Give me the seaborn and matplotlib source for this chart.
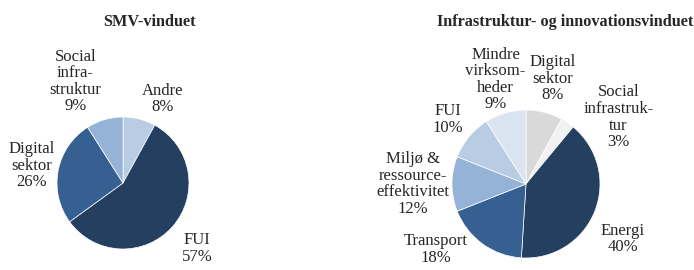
import numpy as np
import matplotlib
matplotlib.use("Agg")
import matplotlib.pyplot as plt
import seaborn as sns

# SMV-vinduet
smv_labels = ['Andre', 'FUI', 'Digital\nsektor', 'Social\ninfra-\nstruktur']
smv_values = [8, 57, 26, 9]
smv_colors = ['#B8CCE4', '#243F60', '#366092', '#95B3D7']

# Infrastruktur- og innovationsvinduet
inf_labels = ['Digital\nsektor', 'Social\ninfrastruk-\ntur', 'Energi', 'Transport',
              'Miljø &\nressource-\neffektivitet', 'FUI', 'Mindre\nvirksom-\nheder']
inf_values = [8, 3, 40, 18, 12, 10, 9]
inf_colors = ['#D9D9D9', '#F2F2F2', '#243F60', '#366092', '#95B3D7', '#B8CCE4', '#DBE5F1']

sns.set_style('white')
plt.rcParams['font.family'] = ['Liberation Serif', 'DejaVu Serif']

W, H = 694, 270
fig = plt.figure(figsize=(W / 100, H / 100), dpi=100)


def draw_pie(cx, cy, r, values, labels, colors, dists, shifts):
    ax = fig.add_axes([(cx - r) / W, (H - cy - r) / H, 2 * r / W, 2 * r / H])
    wedges, _ = ax.pie(values, colors=colors, startangle=90, counterclock=False,
                       wedgeprops=dict(edgecolor='white', linewidth=0.5))
    for w, lab, v, d, s in zip(wedges, labels, values, dists, shifts):
        ang = np.deg2rad((w.theta1 + w.theta2) / 2 + s)
        ax.text(d * np.cos(ang), d * np.sin(ang), f'{lab}\n{v}%', ha='center', va='center',
                fontsize=12, linespacing=1.05, clip_on=False)
    ax.set_xlim(-1, 1)
    ax.set_ylim(-1, 1)
    ax.axis('off')
    return ax


draw_pie(123, 183, 66, smv_values, smv_labels, smv_colors,
         [1.41, 1.5, 1.41, 1.7], [-11, 0, 0, 9])
draw_pie(526, 184, 74, inf_values, inf_labels, inf_colors,
         [1.47, 1.54, 1.5, 1.5, 1.53, 1.37, 1.47], [0, -20, -8, -18, 0, 0, 0])

fig.text(149 / W, 1 - 22 / H, 'SMV-vinduet', ha='center', va='center',
         fontsize=11.7, fontweight='bold')
fig.text(565 / W, 1 - 22 / H, 'Infrastruktur- og innovationsvinduet', ha='center', va='center',
         fontsize=11.7, fontweight='bold')

fig.savefig('out.png', dpi=100)
